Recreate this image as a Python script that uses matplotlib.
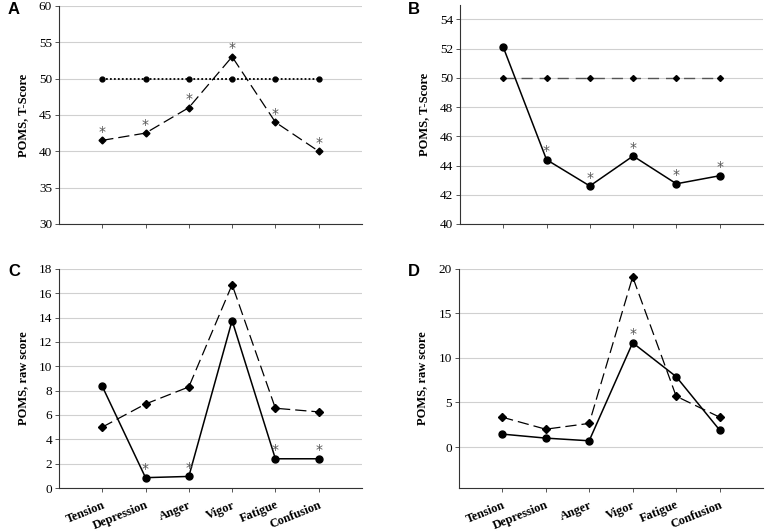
import matplotlib.pyplot as plt
import numpy as np

# categories
moods = ['Tension', 'Depression', 'Anger', 'Vigor', 'Fatigue', 'Confusion']

# Panel A: T-scores
a_ref = [50, 50, 50, 50, 50, 50]
a_grp = [41.5, 42.5, 46.0, 53.0, 44.0, 40.0]
a_star = [True, True, True, True, True, True]

# Panel B: T-scores
b_ref = [50, 50, 50, 50, 50, 50]
b_grp = [52.1, 44.4, 42.6, 44.65, 42.75, 43.3]
b_star = [False, True, True, True, True, True]

# Panel C: raw scores
c_dash = [5.0, 6.9, 8.3, 16.7, 6.55, 6.25]
c_solid = [8.35, 0.85, 0.95, 13.75, 2.4, 2.4]
c_star = [False, True, True, False, True, True]

# Panel D: raw scores
d_dash = [3.35, 2.0, 2.65, 19.1, 5.7, 3.35]
d_solid = [1.45, 1.0, 0.7, 11.7, 7.9, 1.9]
d_star = [False, False, False, True, False, False]

serif = 'Liberation Serif'
x = np.arange(len(moods))

fig = plt.figure(figsize=(7.67, 5.32), dpi=100)
axA = fig.add_axes([0.0769, 0.579, 0.395, 0.410])
axB = fig.add_axes([0.5997, 0.579, 0.395, 0.412])
axC = fig.add_axes([0.0769, 0.0827, 0.395, 0.412])
axD = fig.add_axes([0.598, 0.0827, 0.397, 0.412])


def style(ax, ylim, yticks, ylabel, show_x):
    ax.set_xlim(-1, 6)
    ax.set_ylim(*ylim)
    ax.set_yticks(yticks)
    ax.set_yticklabels([str(t) for t in yticks], family=serif, fontsize=9.5)
    ax.set_xticks(x)
    if show_x:
        ax.set_xticklabels(moods, family=serif, fontweight='bold', fontsize=9,
                           rotation=22, ha='right', rotation_mode='anchor')
    else:
        ax.set_xticklabels([])
    ax.grid(True, axis='y', color='#d0d0d0', linewidth=0.8)
    ax.set_axisbelow(True)
    for s in ['top', 'right']:
        ax.spines[s].set_visible(False)
    for s in ['left', 'bottom']:
        ax.spines[s].set_color('#333333')
        ax.spines[s].set_linewidth(0.8)
    ax.tick_params(axis='both', direction='out', length=3, width=0.7,
                   color='#555555', pad=2)
    ax.tick_params(axis='x', pad=5)
    ax.set_ylabel(ylabel, family=serif, fontweight='bold', fontsize=9, labelpad=7)


def stars(ax, vals, flags, off=6):
    for xi, v, f in zip(x, vals, flags):
        if f:
            ax.annotate('*', (xi, v), xytext=(0, off), textcoords='offset points',
                        ha='center', va='center', fontsize=10, color='#555555',
                        family='DejaVu Sans')


# A
axA.plot(x, a_ref, linestyle=(0, (1, 1.2)), color='black', linewidth=1.3,
         marker='o', markersize=3.5)
axA.plot(x, a_grp, linestyle=(0, (9, 4)), color='black', linewidth=0.9,
         marker='D', markersize=3.5)
stars(axA, a_grp, a_star)
style(axA, (30, 60), [30, 35, 40, 45, 50, 55, 60], 'POMS, T-Score', False)

# B
axB.plot(x, b_ref, linestyle=(0, (8, 5)), color='#555555', linewidth=1.0,
         marker='D', markersize=3, markerfacecolor='black', markeredgecolor='black')
axB.plot(x, b_grp, linestyle='-', color='black', linewidth=1.1,
         marker='o', markersize=5)
stars(axB, b_grp, b_star)
style(axB, (40, 55), [40, 42, 44, 46, 48, 50, 52, 54], 'POMS, T-Score', False)

# C
axC.plot(x, c_dash, linestyle=(0, (9, 4)), color='black', linewidth=0.9,
         marker='D', markersize=4)
axC.plot(x, c_solid, linestyle='-', color='black', linewidth=1.1,
         marker='o', markersize=5)
stars(axC, c_solid, c_star)
style(axC, (0, 18), [0, 2, 4, 6, 8, 10, 12, 14, 16, 18], 'POMS, raw score', True)

# D
axD.plot(x, d_dash, linestyle=(0, (9, 4)), color='black', linewidth=0.9,
         marker='D', markersize=4)
axD.plot(x, d_solid, linestyle='-', color='black', linewidth=1.1,
         marker='o', markersize=5)
stars(axD, d_solid, d_star)
style(axD, (-4.6, 20), [0, 5, 10, 15, 20], 'POMS, raw score', True)

# panel letters
for ax, lab, (px, py) in [(axA, 'A', (8, 10)), (axB, 'B', (408, 10)),
                          (axC, 'C', (8, 272)), (axD, 'D', (408, 272))]:
    fig.text(px / 767, 1 - py / 532, lab, family='Liberation Sans',
             fontweight='bold', fontsize=12, ha='left', va='center')

fig.savefig('out.png', dpi=100)
